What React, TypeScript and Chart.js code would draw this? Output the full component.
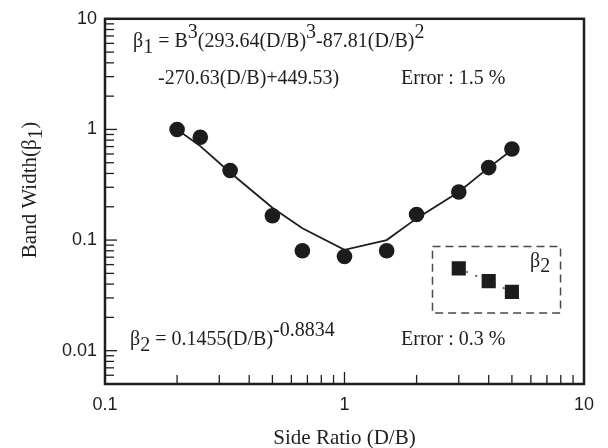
import React, { useEffect, useRef } from 'react';
import { Chart, registerables } from 'chart.js';

Chart.register(...registerables);

// ---- data ----
const sideRatio = [0.2, 0.25, 0.333, 0.5, 0.667, 1, 1.5, 2, 3, 4, 5];
const beta1Measured = [1.0, 0.85, 0.425, 0.166, 0.08, 0.071, 0.08, 0.17, 0.272, 0.452, 0.665];
const beta1Fit = [1.0, 0.707, 0.408, 0.196, 0.128, 0.0816, 0.1, 0.157, 0.272, 0.452, 0.652];
const beta2Ratio = [3, 4, 5];
const beta2Values = [0.0554, 0.0425, 0.034];

const xTickValues = [0.1, 1, 10];
const xTickLabels = ['0.1', '1', '10'];
const yTickValues = [0.01, 0.1, 1, 10];
const yTickLabels = ['0.01', '0.1', '1', '10'];

const xTitle = 'Side Ratio (D/B)';
const yTitleParts: [string, number][] = [['Band Width(\u03B2', 0], ['1', 6], [')', 0]];
const eq1Line1: [string, number][] = [
  ['\u03B2', 0], ['1', 6], [' = B', 0], ['3', -9], ['(293.64(D/B)', 0], ['3', -9], ['-87.81(D/B)', 0], ['2', -9],
];
const eq1Line2: [string, number][] = [['-270.63(D/B)+449.53)', 0]];
const err1 = 'Error : 1.5 %';
const eq2: [string, number][] = [['\u03B2', 0], ['2', 6], [' = 0.1455(D/B)', 0], ['-0.8834', -9]];
const err2 = 'Error : 0.3 %';
const insetLabel: [string, number][] = [['\u03B2', 0], ['2', 5]];
const insetX = [2.33, 7.98];
const insetY = [0.0875, 0.0219];

const SERIF = '"Liberation Serif", "Times New Roman", serif';
const SANS = '"Liberation Sans", Arial, sans-serif';
const INK = '#1e1e1e';

function drawRich(ctx: CanvasRenderingContext2D, x: number, y: number, parts: [string, number][], font: string) {
  ctx.font = font;
  ctx.textAlign = 'left';
  ctx.textBaseline = 'alphabetic';
  let cx = x;
  for (const [t, dy] of parts) {
    ctx.fillText(t, cx, y + dy);
    cx += ctx.measureText(t).width;
  }
  return cx;
}

function richWidth(ctx: CanvasRenderingContext2D, parts: [string, number][], font: string) {
  ctx.font = font;
  return parts.reduce((s, [t]) => s + ctx.measureText(t).width, 0);
}

const decorPlugin = {
  id: 'decor',
  afterDraw(chart: any) {
    const { ctx, chartArea: a, scales } = chart;
    const xs = scales.x;
    const ys = scales.y;
    ctx.save();
    ctx.strokeStyle = INK;
    ctx.lineWidth = 1.3;
    // inward ticks, x
    for (let e = -1; e <= 0; e++) {
      for (let m = 1; m <= 9; m++) {
        const v = m * Math.pow(10, e);
        if (v <= xs.min * 1.0001 || v >= xs.max * 0.9999) continue;
        const px = xs.getPixelForValue(v);
        const len = m === 1 ? 12 : 9;
        ctx.beginPath();
        ctx.moveTo(px, a.bottom);
        ctx.lineTo(px, a.bottom - len);
        ctx.stroke();
      }
    }
    // inward ticks, y
    for (let e = -3; e <= 0; e++) {
      for (let m = 1; m <= 9; m++) {
        const v = m * Math.pow(10, e);
        if (v <= ys.min * 1.0001 || v >= ys.max * 0.9999) continue;
        const py = ys.getPixelForValue(v);
        const len = m === 1 ? 12 : 9;
        ctx.beginPath();
        ctx.moveTo(a.left, py);
        ctx.lineTo(a.left + len, py);
        ctx.stroke();
      }
    }
    // frame
    ctx.lineWidth = 2.5;
    ctx.strokeRect(a.left, a.top, a.right - a.left, a.bottom - a.top);

    // dashed inset box
    const bx0 = xs.getPixelForValue(insetX[0]);
    const bx1 = xs.getPixelForValue(insetX[1]);
    const by0 = ys.getPixelForValue(insetY[0]);
    const by1 = ys.getPixelForValue(insetY[1]);
    ctx.setLineDash([8, 5]);
    ctx.lineWidth = 1.5;
    ctx.strokeStyle = '#4a4a4a';
    ctx.strokeRect(bx0, by0, bx1 - bx0, by1 - by0);
    ctx.setLineDash([]);

    // texts
    ctx.fillStyle = INK;
    const f20 = `20px ${SERIF}`;
    drawRich(ctx, 133, 47, eq1Line1, f20);
    drawRich(ctx, 158, 84, eq1Line2, f20);
    drawRich(ctx, 401, 84, [[err1, 0]], f20);
    drawRich(ctx, 130, 345, eq2, f20);
    drawRich(ctx, 401, 345, [[err2, 0]], f20);
    drawRich(ctx, 530, 267, insetLabel, f20);

    // axis titles
    const f21 = `21px ${SERIF}`;
    ctx.font = f21;
    ctx.textAlign = 'center';
    ctx.textBaseline = 'alphabetic';
    ctx.fillText(xTitle, (a.left + a.right) / 2, 444);

    const w = richWidth(ctx, yTitleParts, f21);
    ctx.translate(36, 190);
    ctx.rotate(-Math.PI / 2);
    drawRich(ctx, -w / 2, 0, yTitleParts, f21);
    ctx.restore();
  },
};

export default function App() {
  const ref = useRef<HTMLCanvasElement | null>(null);
  useEffect(() => {
    document.body.style.margin = '0';
    const canvas = ref.current;
    if (!canvas) return;
    const chart = new Chart(canvas, {
      type: 'scatter',
      data: {
        datasets: [
          {
            label: 'fit',
            data: sideRatio.map((x, i) => ({ x, y: beta1Fit[i] })),
            showLine: true,
            borderColor: INK,
            borderWidth: 1.8,
            pointRadius: 0,
            tension: 0,
          },
          {
            label: 'beta1',
            data: sideRatio.map((x, i) => ({ x, y: beta1Measured[i] })),
            pointStyle: 'circle',
            pointRadius: 7.8,
            backgroundColor: '#1c1c1c',
            borderWidth: 0,
          },
          {
            label: 'beta2',
            data: beta2Ratio.map((x, i) => ({ x, y: beta2Values[i] })),
            showLine: true,
            borderColor: '#444',
            borderWidth: 1.5,
            borderDash: [2, 8],
            borderDashOffset: -8,
            pointStyle: 'rect',
            pointRadius: 10,
            backgroundColor: '#1c1c1c',
            pointBorderWidth: 0,
          },
        ],
      },
      options: {
        animation: false,
        responsive: true,
        maintainAspectRatio: false,
        layout: { padding: { top: 12, right: 24, left: 0, bottom: 0 } },
        plugins: { legend: { display: false }, tooltip: { enabled: false } },
        scales: {
          x: {
            type: 'logarithmic',
            min: 0.1,
            max: 10,
            border: { display: false },
            grid: { display: false, drawTicks: false },
            afterBuildTicks: (s: any) => {
              s.ticks = xTickValues.map((v) => ({ value: v }));
            },
            afterFit: (s: any) => {
              s.height = 64;
            },
            ticks: {
              padding: 10,
              color: INK,
              font: { family: SANS, size: 18 },
              maxRotation: 0,
              autoSkip: false,
              callback: (v: any) => {
                const i = xTickValues.findIndex((t) => Math.abs(t - Number(v)) < 1e-9);
                return i >= 0 ? xTickLabels[i] : '';
              },
            },
          },
          y: {
            type: 'logarithmic',
            min: 0.005,
            max: 10,
            border: { display: false },
            grid: { display: false, drawTicks: false },
            afterBuildTicks: (s: any) => {
              s.ticks = yTickValues.map((v) => ({ value: v }));
            },
            afterFit: (s: any) => {
              s.width = 105;
            },
            ticks: {
              padding: 8,
              color: INK,
              font: { family: SANS, size: 18 },
              autoSkip: false,
              callback: (v: any) => {
                const i = yTickValues.findIndex((t) => Math.abs(t - Number(v)) < 1e-9);
                return i >= 0 ? yTickLabels[i] : '';
              },
            },
          },
        },
      },
      plugins: [decorPlugin],
    });
    return () => chart.destroy();
  }, []);
  return (
    <div style={{ position: 'relative', width: 608, height: 448, background: '#fff' }}>
      <canvas ref={ref} />
    </div>
  );
}
